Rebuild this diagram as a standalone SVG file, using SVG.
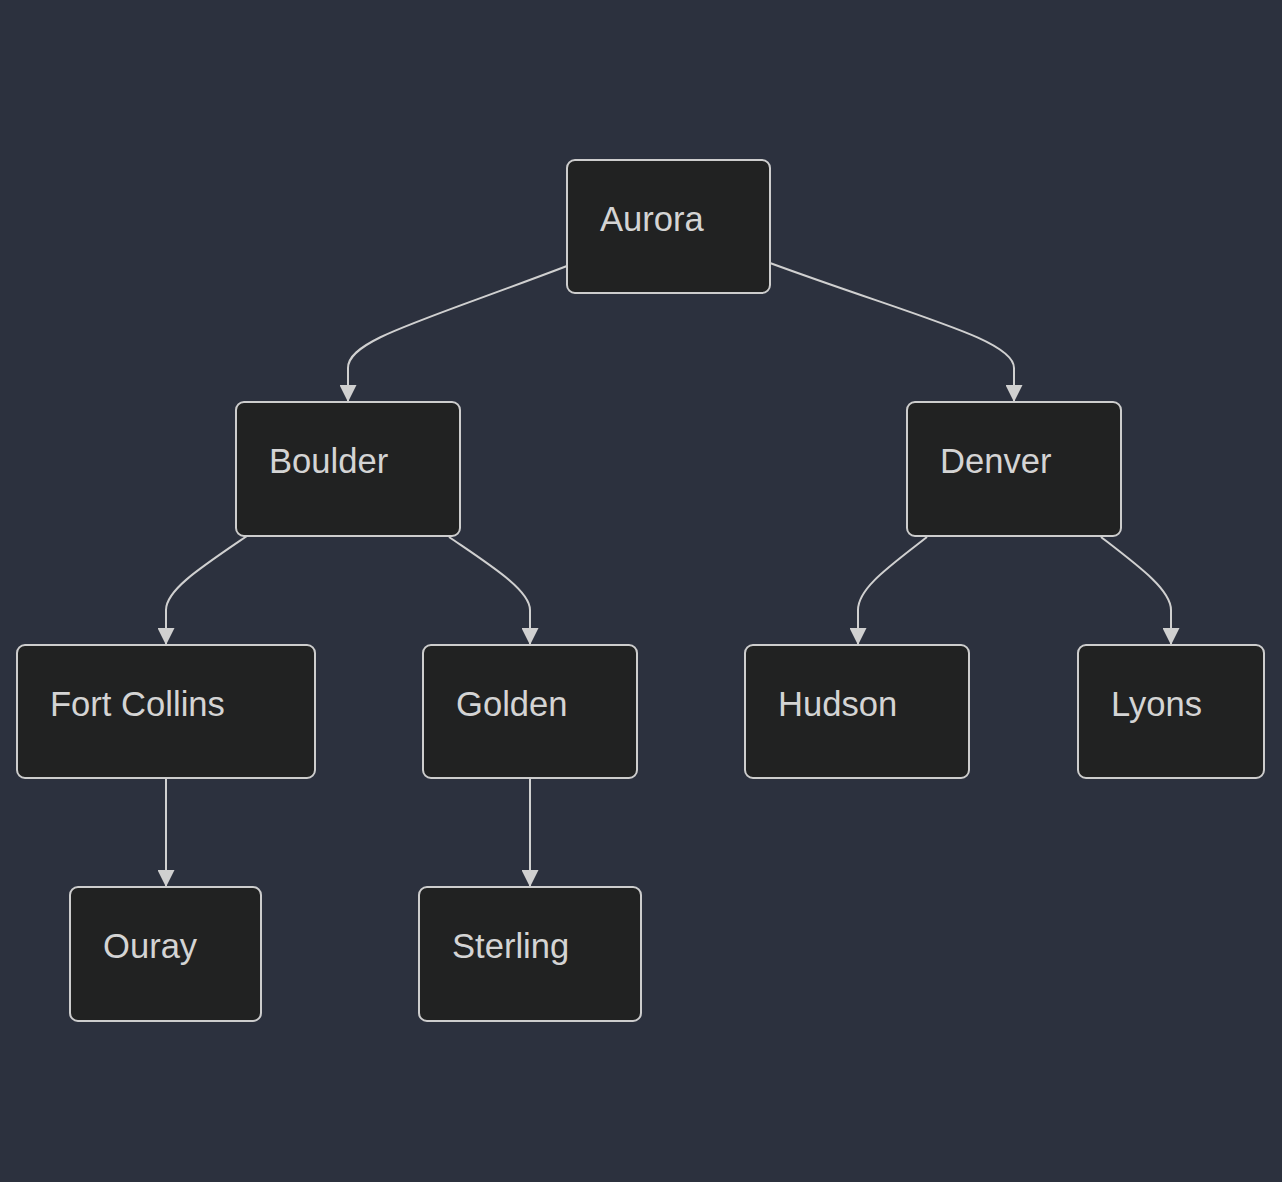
<svg xmlns="http://www.w3.org/2000/svg" width="1282" height="1182" viewBox="0 0 1282 1182">
<style>
.node rect{fill:#212222;stroke:#cdcdcd;stroke-width:2}
.node text{fill:#d4d4d4;font-family:"Liberation Sans",Arial,sans-serif;font-size:34.6px}
.edges path{fill:none;stroke:#d0d0d0;stroke-width:2;marker-end:url(#arr)}
</style>
<defs>
<marker id="arr" markerUnits="userSpaceOnUse" markerWidth="17" markerHeight="17" viewBox="0 0 10 10" refX="10" refY="5" orient="auto">
<path d="M0,0 L10,5 L0,10 z" fill="#d0d0d0"/>
</marker>
</defs>
<rect width="1282" height="1182" fill="#2c313e"/>
<g class="edges">
<path d="M567,266 C420,322 348,340 348,368 L348,402"/>
<path d="M770,263 C920,318 1014,340 1014,368 L1014,402"/>
<path d="M247,536 C200,568 166,590 166,610 L166,645"/>
<path d="M449,537 C490,565 530,590 530,610 L530,645"/>
<path d="M927,537 C890,566 858,588 858,610 L858,645"/>
<path d="M1101,537 C1140,567 1171,590 1171,610 L1171,645"/>
<path d="M166,778 L166,887"/>
<path d="M530,778 L530,887"/>
</g>
<g id="aurora" class="node"><rect x="567" y="160" width="203" height="133" rx="8"/><text x="600" y="231">Aurora</text></g>
<g id="boulder" class="node"><rect x="236" y="402" width="224" height="134" rx="8"/><text x="269" y="473">Boulder</text></g>
<g id="denver" class="node"><rect x="907" y="402" width="214" height="134" rx="8"/><text x="940" y="473">Denver</text></g>
<g id="fortcollins" class="node"><rect x="17" y="645" width="298" height="133" rx="8"/><text x="50" y="716">Fort Collins</text></g>
<g id="golden" class="node"><rect x="423" y="645" width="214" height="133" rx="8"/><text x="456" y="716">Golden</text></g>
<g id="hudson" class="node"><rect x="745" y="645" width="224" height="133" rx="8"/><text x="778" y="716">Hudson</text></g>
<g id="lyons" class="node"><rect x="1078" y="645" width="186" height="133" rx="8"/><text x="1111" y="716">Lyons</text></g>
<g id="ouray" class="node"><rect x="70" y="887" width="191" height="134" rx="8"/><text x="103" y="958">Ouray</text></g>
<g id="sterling" class="node"><rect x="419" y="887" width="222" height="134" rx="8"/><text x="452" y="958">Sterling</text></g>
</svg>
